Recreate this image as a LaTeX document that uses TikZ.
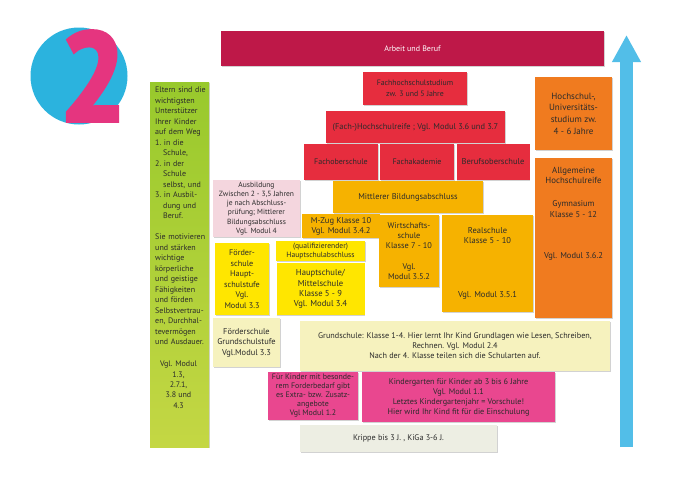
\documentclass[tikz,border=0pt]{standalone}
\usepackage{fontspec}
\setmainfont{PT Sans}
\newfontfamily\digitfont{PT Sans Bold}[FakeBold=3]
\usepackage{xcolor}
\usetikzlibrary{shadows,arrows.meta}

\definecolor{blobcyan}{HTML}{2BB3DE}
\definecolor{twopink}{HTML}{E5357F}
\definecolor{arrowblue}{HTML}{52BEE8}
\definecolor{greentop}{HTML}{98C92C}
\definecolor{greenbottom}{HTML}{C4D744}
\definecolor{workred}{HTML}{BE1848}
\definecolor{notered}{HTML}{E62D3E}
\definecolor{noteorange}{HTML}{F07B1F}
\definecolor{noteamber}{HTML}{F6B200}
\definecolor{noteyellow}{HTML}{FFE600}
\definecolor{notepink}{HTML}{F4D6DE}
\definecolor{notecream}{HTML}{F6F2BE}
\definecolor{notemagenta}{HTML}{E9478F}
\definecolor{notegrey}{HTML}{EDEEE3}
\definecolor{notetext}{HTML}{2B2B2B}

\begin{document}
\begin{tikzpicture}[x=1pt,y=-1pt]
        \tikzstyle{note text}=[align=center,text=notetext,font=\fontsize{8}{10}\selectfont]
        \tikzstyle{note}=[note text,inner sep=1pt,drop shadow={shadow xshift=0.6pt,shadow yshift=-1.3pt,opacity=0.35}]
        \tikzstyle{red note}=[note,fill=notered]
        \tikzstyle{orange note}=[note,fill=noteorange]
        \tikzstyle{amber note}=[note,fill=noteamber]
        \tikzstyle{yellow note}=[note,fill=noteyellow]
        \tikzstyle{cream note}=[note,fill=notecream]
        \tikzstyle{pink note}=[note,fill=notepink]
        \tikzstyle{magenta note}=[note,fill=notemagenta]
        \tikzstyle{grey note}=[note,fill=notegrey]

        \path[use as bounding box,fill=white] (0,0) rectangle (690,485);

        \node[circle,fill=blobcyan,minimum size=97pt,inner sep=0pt] (Blob) at (79,76) {};
        \node[text=twopink,font=\fontsize{126}{126}\digitfont,xscale=0.94,inner sep=0pt] (Two) at (93,76) {2};

        \node[note,top color=greentop,bottom color=greenbottom,minimum width=59pt,minimum height=365pt] (Eltern) at (179.5,264.5) {};
        \node[note text,anchor=north west,text width=54pt,align=left,inner sep=0pt,font=\fontsize{8}{10.5}\selectfont] (ElternText) at (155,87) {Eltern sind die\\wichtigsten\\Unterstützer\\Ihrer Kinder\\auf dem Weg\\1.~in die\\\hspace*{8pt}Schule,\\2.~in der\\\hspace*{8pt}Schule\\\hspace*{8pt}selbst, und\\3.~in Ausbil-\\\hspace*{8pt}dung und\\\hspace*{8pt}Beruf.\\[10.5pt]Sie motivieren\\und stärken\\wichtige\\körperliche\\und geistige\\Fähigkeiten\\und förden\\Selbstvertrau-\\en, Durchhal-\\tevermögen\\und Ausdauer.};
        \node[note text,anchor=north,inner sep=0pt,font=\fontsize{8}{10.3}\selectfont] (ElternModul) at (178.5,361) {Vgl. Modul\\1.3,\\2.7.1,\\3.8 und\\4.3};

        \node[note,fill=workred,text=white,minimum width=383pt,minimum height=35pt] (Arbeit) at (412.5,48.5) {Arbeit und Beruf};

        \node[red note,minimum width=104pt,minimum height=33pt,font=\fontsize{7.8}{10.5}\selectfont] (FHStudium) at (415,88.5) {Fachhochschulstudium\\zw. 3 und 5 Jahre};
        \node[red note,minimum width=179pt,minimum height=32pt,font=\fontsize{8.4}{10}\selectfont] (HSReife) at (415.5,127) {(Fach-)Hochschulreife ; Vgl. Modul 3.6 und 3.7};
        \node[red note,minimum width=74pt,minimum height=36pt] (FOS) at (341,162) {Fachoberschule};
        \node[red note,minimum width=74pt,minimum height=36pt,node distance=76pt] (FAK) [right of=FOS] {Fachakademie};
        \node[red note,minimum width=73pt,minimum height=36pt,node distance=76pt,font=\fontsize{8.5}{10}\selectfont] (BOS) [right of=FAK] {Berufsoberschule};

        \node[orange note,minimum width=77pt,minimum height=73pt,font=\fontsize{9}{11.7}\selectfont] (Uni) at (573.5,113.5) {Hochschul-,\\Universitäts-\\studium zw.\\4 - 6 Jahre};
        \node[orange note,minimum width=77pt,minimum height=36pt,font=\fontsize{8.8}{10.7}\selectfont] (AHR) at (573.5,175.5) {Allgemeine\\Hochschulreife};
        \node[orange note,minimum width=77pt,minimum height=124pt,label={[note text,anchor=north,yshift=-3pt,font=\fontsize{8.5}{11}\selectfont]north:{Gymnasium\\Klasse 5 - 12\\[30pt]Vgl. Modul 3.6.2}}] (Gym) at (573.5,256) {};

        \node[pink note,minimum width=87pt,minimum height=57pt,font=\fontsize{7.5}{9.2}\selectfont] (Ausbildung) at (256.5,208.5) {Ausbildung\\Zwischen 2 - 3,5 Jahren\\je nach Abschluss-\\prüfung; Mittlerer\\Bildungsabschluss\\Vgl. Modul 4};

        \node[amber note,minimum width=150pt,minimum height=32pt,font=\fontsize{8.4}{10}\selectfont] (Mittlerer) at (408,197) {Mittlerer Bildungsabschluss};
        \node[amber note,minimum width=78pt,minimum height=24pt,font=\fontsize{8.5}{10}\selectfont] (MZug) at (341,226) {M-Zug Klasse 10\\Vgl. Modul 3.4.2};
        \node[amber note,minimum width=60pt,minimum height=72pt,font=\fontsize{8.3}{10}\selectfont] (Wirtschaft) at (409,251) {Wirtschafts-\\schule\\Klasse 7 - 10\\[11pt]Vgl.\\Modul 3.5.2};
        \node[amber note,minimum width=91pt,minimum height=97pt,font=\fontsize{8.5}{10}\selectfont] (Real) at (487.5,263.5) {Realschule\\Klasse 5 - 10\\[44pt]Vgl. Modul 3.5.1};

        \node[yellow note,minimum width=54pt,minimum height=72pt,font=\fontsize{8.2}{10.5}\selectfont] (FSHaupt) at (242,279) {Förder-\\schule\\Haupt-\\schulstufe\\Vgl.\\Modul 3.3};
        \node[yellow note,minimum width=89pt,minimum height=20pt,font=\fontsize{7.6}{9.5}\selectfont] (Quali) at (320.5,251) {(qualifizierender)\\Hauptschulabschluss};
        \node[yellow note,minimum width=88pt,minimum height=52pt,node distance=38pt,font=\fontsize{8.6}{10.3}\selectfont] (Haupt) [below of=Quali] {Hauptschule/\\Mittelschule\\Klasse 5 - 9\\Vgl. Modul 3.4};

        \node[cream note,minimum width=67pt,minimum height=49pt,font=\fontsize{8.4}{10.5}\selectfont] (FSGrund) at (246.5,342.5) {Förderschule\\Grundschulstufe\\Vgl.Modul 3.3};
        \node[cream note,minimum width=310pt,minimum height=50pt,font=\fontsize{8.2}{10}\selectfont] (Grund) at (455,346) {Grundschule: Klasse 1-4. Hier lernt Ihr Kind Grundlagen wie Lesen, Schreiben,\\Rechnen. Vgl. Modul 2.4\\Nach der 4. Klasse teilen sich die Schularten auf.};

        \node[magenta note,minimum width=90pt,minimum height=48pt,font=\fontsize{7.9}{9}\selectfont] (Foerder) at (313,396) {Für Kinder mit besonde-\\rem Forderbedarf gibt\\es Extra- bzw. Zusatz-\\angebote\\Vgl Modul 1.2};
        \node[magenta note,minimum width=193pt,minimum height=50pt,font=\fontsize{8.2}{10}\selectfont] (Kiga) at (458.5,397) {Kindergarten für Kinder ab 3 bis 6 Jahre\\Vgl. Modul 1.1\\Letztes Kindergartenjahr = Vorschule!\\Hier wird Ihr Kind fit für die Einschulung};
        \node[grey note,minimum width=197pt,minimum height=27pt,font=\fontsize{8.2}{10}\selectfont] (Krippe) at (398.5,438.5) {Krippe bis 3 J. , KiGa 3-6 J.};

        \coordinate (ArrowFoot) at (626.5,447);
        \coordinate (ArrowTip) at (626.5,35);
        \draw[draw=arrowblue,line width=13pt,-{Triangle[width=27pt,length=27pt]}] (ArrowFoot) -- (ArrowTip);
    \end{tikzpicture}
\end{document}
